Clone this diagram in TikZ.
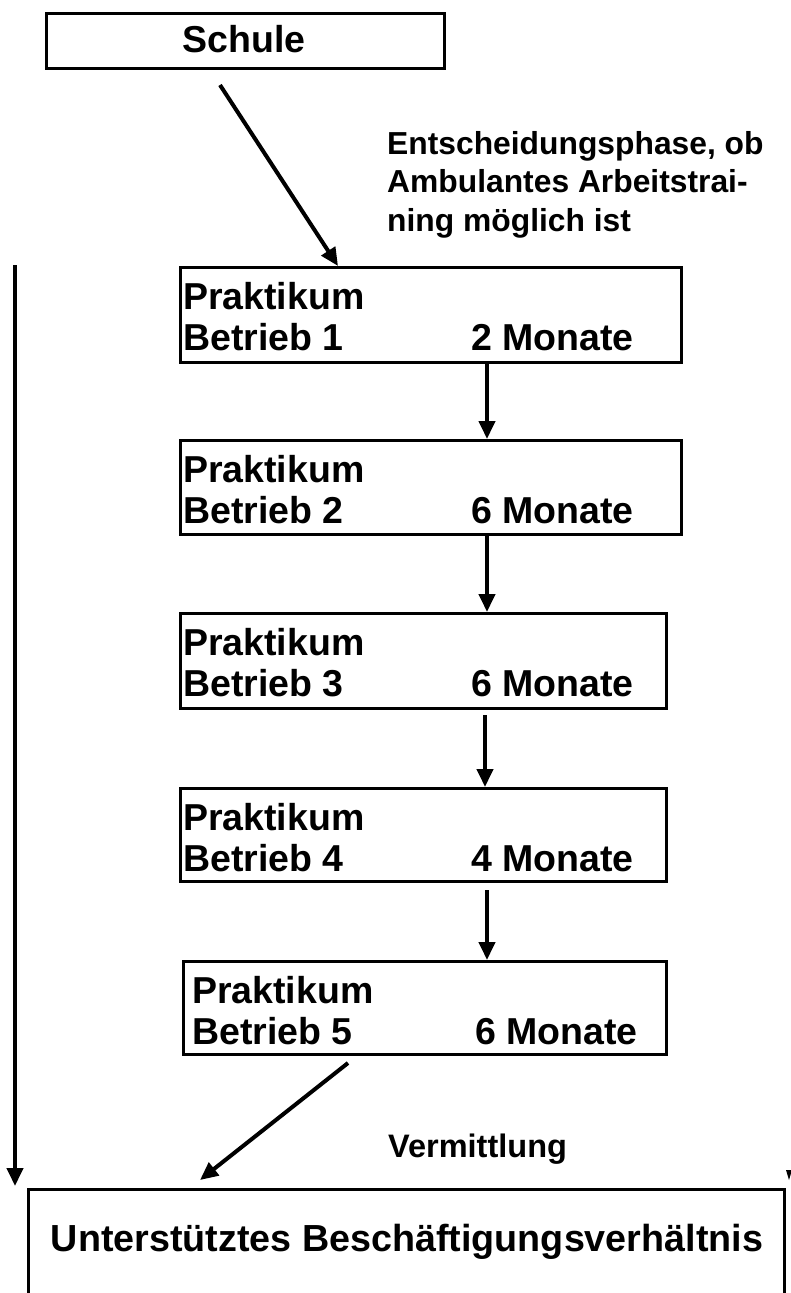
\documentclass[tikz,border=0pt]{standalone}
\usepackage{fontspec}
\setmainfont{Liberation Sans}
\usetikzlibrary{arrows.meta}
\tikzset{
  box/.style={draw, line width=2.5pt, inner sep=0pt, anchor=north west},
  txt/.style={inner sep=0pt, anchor=base west, font=\bfseries\fontsize{37.5}{41}\selectfont},
  lbl/.style={inner sep=0pt, anchor=base west, font=\bfseries\fontsize{31.8}{38.5}\selectfont, align=left},
  arr/.style={line width=4pt, -{Triangle[length=18pt,width=16pt]}},
}
\begin{document}
\begin{tikzpicture}[x=1pt,y=-1pt]
\useasboundingbox (0,0) rectangle (791,1293);
% Schule
\node[box, minimum width=398pt, minimum height=55pt] (schule) at (45,12) {};
\node[inner sep=0pt, anchor=base, font=\bfseries\fontsize{37.5}{41}\selectfont] (schuleT) at (244,52) {Schule};
% label
\node[lbl] (entsch) at (387,231) {Entscheidungsphase, ob\\Ambulantes Arbeitstrai-\\ning möglich ist};
% boxes
\node[box, minimum width=501pt, minimum height=95pt] (p1) at (179,266) {};
\node[txt] (p1a) at (183,309) {Praktikum};
\node[txt] (p1b) at (183,350) {Betrieb 1};
\node[txt] (p1c) at (471,350) {2 Monate};

\node[box, minimum width=501pt, minimum height=94pt] (p2) at (179,439) {};
\node[txt] (p2a) at (183,482) {Praktikum};
\node[txt] (p2b) at (183,523) {Betrieb 2};
\node[txt] (p2c) at (471,523) {6 Monate};

\node[box, minimum width=486pt, minimum height=95pt] (p3) at (179,612) {};
\node[txt] (p3a) at (183,655) {Praktikum};
\node[txt] (p3b) at (183,696) {Betrieb 3};
\node[txt] (p3c) at (471,696) {6 Monate};

\node[box, minimum width=486pt, minimum height=93pt] (p4) at (179,787) {};
\node[txt] (p4a) at (183,830) {Praktikum};
\node[txt] (p4b) at (183,871) {Betrieb 4};
\node[txt] (p4c) at (471,871) {4 Monate};

\node[box, minimum width=483pt, minimum height=93pt] (p5) at (182,960) {};
\node[txt] (p5a) at (192,1003) {Praktikum};
\node[txt] (p5b) at (192,1044) {Betrieb 5};
\node[txt] (p5c) at (475,1044) {6 Monate};

\node[lbl, font=\bfseries\fontsize{32.5}{38}\selectfont] (verm) at (388,1157) {Vermittlung};

% bottom box
\node[box, minimum width=756pt, minimum height=120pt] (ub) at (27,1188) {};
\node[inner sep=0pt, anchor=base, font=\bfseries\fontsize{37.7}{41}\selectfont] (ubT) at (407,1251) {Unterstütztes Beschäftigungsverhältnis};

% connectors
\coordinate (s0) at (220,85);
\coordinate (s1) at (338,266);
\draw[arr] (s0) -- (s1);
\draw[arr] (p1.south -| 487,0) -- (p2.north -| 487,0);
\draw[arr] (p2.south -| 487,0) -- (p3.north -| 487,0);
\coordinate (a3) at (485,715);
\draw[arr] (a3) -- (p4.north -| 485,0);
\coordinate (a4) at (487,890);
\draw[arr] (a4) -- (p5.north -| 487,0);
\coordinate (v0) at (348,1063);
\coordinate (v1) at (200,1180);
\draw[arr] (v0) -- (v1);
\coordinate (l0) at (15,265);
\coordinate (l1) at (15,1186);
\draw[arr] (l0) -- (l1);
% small clipped mark at right edge
\coordinate (r0) at (786,1170);
\coordinate (r1) at (789,1180);
\coordinate (r2) at (792,1170);
\fill (r0) -- (r1) -- (r2) -- cycle;
\end{tikzpicture}
\end{document}
